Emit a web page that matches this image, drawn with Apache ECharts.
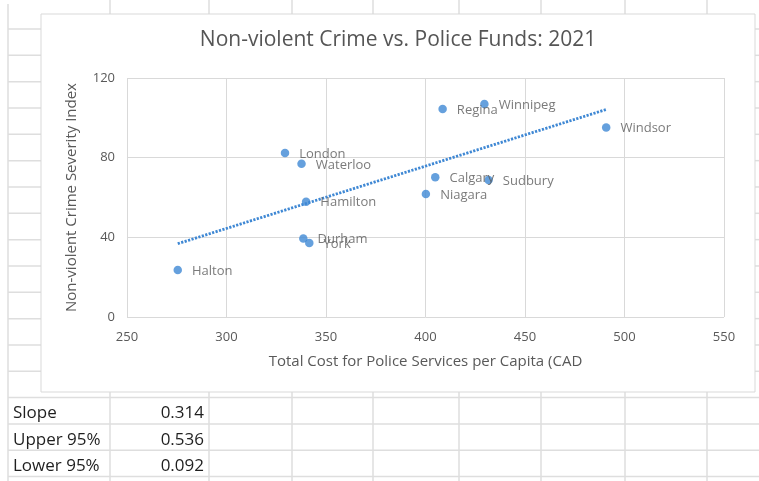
<!DOCTYPE html>
<html><head><meta charset="utf-8">
<script src="https://cdn.jsdelivr.net/npm/echarts@6/dist/echarts.min.js"></script>
<style>html,body{margin:0;padding:0;background:#fff}#c{width:759px;height:481px}</style>
</head><body><div id="c"></div>
<script>
// ---- data ----
const cities = ['Halton','London','Waterloo','Hamilton','Durham','York','Regina','Winnipeg','Windsor','Calgary','Sudbury','Niagara'];
const costPerCapita = [275.5,329.4,337.7,340.0,338.6,341.6,408.6,429.6,490.8,404.9,431.7,400.2];
const crimeIndex = [23.6,82.3,76.9,57.9,39.4,37.1,104.4,106.9,95.1,70.2,68.8,61.7];
const xAxisMin = 250, xAxisMax = 550, xAxisStep = 50;
const yAxisMin = 0, yAxisMax = 120, yAxisStep = 40;
const tableLabels = ['Slope','Upper 95%','Lower 95%'];
const tableValues = ['0.314','0.536','0.092'];

// ---- least squares trendline from the data ----
const n = costPerCapita.length;
const mx = costPerCapita.reduce((a,b)=>a+b,0)/n;
const my = crimeIndex.reduce((a,b)=>a+b,0)/n;
let sxy = 0, sxx = 0;
for (let i=0;i<n;i++){ sxy += (costPerCapita[i]-mx)*(crimeIndex[i]-my); sxx += (costPerCapita[i]-mx)**2; }
const slope = sxy/sxx, intercept = my - slope*mx;
const xLo = Math.min(...costPerCapita), xHi = Math.max(...costPerCapita);
const trend = [[xLo, intercept+slope*xLo],[xHi, intercept+slope*xHi]];

// ---- spreadsheet decoration ----
const FONT = '"Open Sans", sans-serif';
const gridColor = '#dedede';
const colLines = [8,110,209,292,373,459,541,625,707];
const rowLines = Array.from({length:18},(_,k)=>29+k*26.33);
const box = {x:41,y:14,w:714,h:378};
const g = [];
const line = (x1,y1,x2,y2)=>g.push({type:'line',z:-10,silent:true,shape:{x1,y1,x2,y2},style:{stroke:gridColor,lineWidth:1.5}});
line(8,4,8,481);
colLines.slice(1).forEach(x=>{ line(x,0,x,box.y); line(x,box.y+box.h,x,481); });
rowLines.forEach(y=>{
  if (y < box.y+box.h) { line(8,y,box.x,y); line(box.x+box.w,y,759,y); }
  else line(8,y,759,y);
});
g.push({type:'rect',z:-5,silent:true,shape:{x:box.x,y:box.y,width:box.w,height:box.h},style:{fill:'#fff',stroke:'#d9d9d9',lineWidth:1}});
const tableRows = rowLines.filter(y=>y>box.y+box.h);
tableLabels.forEach((t,i)=>{
  const yc = tableRows[i]+16;
  g.push({type:'text',z:5,x:13,y:yc,style:{text:t,font:'17px '+FONT,fill:'#1f1f1f',verticalAlign:'middle',align:'left'}});
  g.push({type:'text',z:5,x:204,y:yc,style:{text:tableValues[i],font:'17px '+FONT,fill:'#1f1f1f',verticalAlign:'middle',align:'right'}});
});

const blue = '#3f88d4';
const txt = '#595959';
const chart = echarts.init(document.getElementById('c'));
chart.setOption({
  animation:false,
  backgroundColor:'#fff',
  title:{text:'Non-violent Crime vs. Police Funds: 2021',left:398,top:30,textAlign:'center',padding:0,
    textStyle:{fontFamily:FONT,fontSize:21,fontWeight:'normal',color:'#555'}},
  graphic:g,
  grid:{left:127,right:35,top:78,bottom:164,outerBoundsMode:'none',containLabel:false},
  xAxis:{type:'value',min:xAxisMin,max:xAxisMax,interval:xAxisStep,
    name:'Total Cost for Police Services per Capita (CAD',nameLocation:'middle',nameGap:37,
    nameTextStyle:{fontFamily:FONT,fontSize:15,color:txt},
    axisLine:{show:false},axisTick:{show:false},
    axisLabel:{fontFamily:FONT,fontSize:13,color:txt,margin:14},
    splitLine:{show:true,lineStyle:{color:'#d9d9d9',width:1}}},
  yAxis:{type:'value',min:yAxisMin,max:yAxisMax,interval:yAxisStep,
    name:'Non-violent Crime Severity Index',nameLocation:'middle',nameGap:48,nameRotate:90,
    nameTextStyle:{fontFamily:FONT,fontSize:15,color:txt},
    axisLine:{show:false},axisTick:{show:false},
    axisLabel:{fontFamily:FONT,fontSize:13,color:txt,margin:12},
    splitLine:{show:true,lineStyle:{color:'#d9d9d9',width:1}}},
  series:[
    {type:'line',data:trend,showSymbol:false,symbol:'none',z:3,silent:true,
      lineStyle:{color:blue,width:2.8,type:[2.2,1.4]}},
    {type:'scatter',symbolSize:8.5,z:4,itemStyle:{color:blue},
      data:cities.map((c,i)=>({name:c,value:[costPerCapita[i],crimeIndex[i]]})),
      label:{show:true,position:'right',distance:10,offset:[0,1],formatter:'{b}',
        fontFamily:FONT,fontSize:13,color:txt}}
  ]
});
</script></body></html>
